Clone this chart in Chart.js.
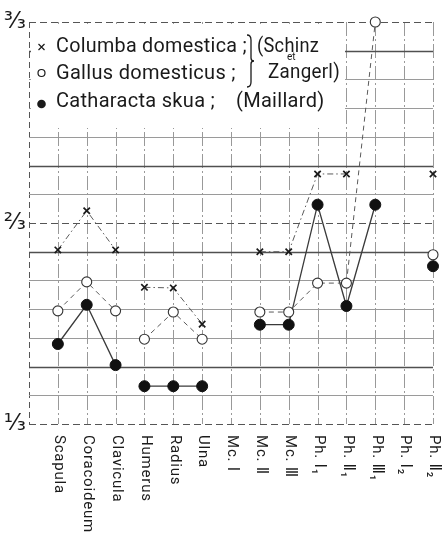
<!DOCTYPE html>
<html lang="de">
<head>
<meta charset="UTF-8">
<title>Columba, Gallus, Catharacta</title>
<script src="https://cdn.jsdelivr.net/npm/chart.js"></script>
<style>
  html, body { margin: 0; padding: 0; background: #fff; }
  canvas { display: block; }
</style>
</head>
<body>
<canvas id="chart" width="447" height="541"></canvas>
<script>
// bones along the x axis
const bones = ['Scapula', 'Coracoideum', 'Clavicula', 'Humerus', 'Radius', 'Ulna',
  'Mc. Ⅰ', 'Mc. Ⅱ', 'Mc. Ⅲ', 'Ph. Ⅰ₁', 'Ph. Ⅱ₁', 'Ph. Ⅲ₁', 'Ph. Ⅰ₂', 'Ph. Ⅱ₂'];

// relative values (fraction of the reference length)
const columba    = [0.622, 0.687, 0.622, 0.560, 0.559, 0.499, null, 0.619, 0.619, 0.748, 0.748, null, null, 0.748];
const gallus     = [0.521, 0.569, 0.521, 0.474, 0.519, 0.474, null, 0.519, 0.519, 0.567, 0.567, 1.000, null, 0.614];
const catharacta = [0.466, 0.531, 0.431, 0.396, 0.396, 0.396, null, 0.498, 0.498, 0.697, 0.529, 0.697, null, 0.595];

const seriesNames = ['Columba domestica', 'Gallus domesticus', 'Catharacta skua'];
const sources = ['Schinz', 'et', 'Zangerl', 'Maillard'];

// shoulder girdle and wing are not joined
const groupEnds = [2];

// y axis 1/3 .. 3/3, grid every 1/21
const yMin = 1 / 3, yMax = 1, ySteps = 14;
const yLabels = { 0: '¹⁄₃', 7: '²⁄₃', 14: '³⁄₃' };

const ink = '#1a1a1a';

function series(label, values, style) {
  return Object.assign({
    label: label,
    data: values.map((v, i) => ({ x: i, y: v })),
    spanGaps: false,
    tension: 0,
    clip: false,
    segment: {
      borderColor: c => groupEnds.includes(c.p0DataIndex) ? 'rgba(0,0,0,0)' : undefined
    }
  }, style);
}

const paper = {
  id: 'paper',
  beforeDatasetsDraw(chart) {
    const { ctx, chartArea: a, scales: { x, y } } = chart;
    ctx.save();

    // vertical lines
    for (let i = -1; i < bones.length; i++) {
      const px = Math.round(x.getPixelForValue(i)) + 0.5;
      ctx.beginPath();
      ctx.setLineDash(i === -1 ? [6, 4] : [14, 3, 2, 3]);
      ctx.strokeStyle = i === -1 ? '#555' : '#999';
      ctx.lineWidth = 1;
      ctx.moveTo(px, a.top);
      ctx.lineTo(px, a.bottom);
      ctx.stroke();
    }

    // horizontal lines
    const heavy = [2, 6, 9, 13];
    for (let k = 0; k <= ySteps; k++) {
      const py = Math.round(y.getPixelForValue(yMin + k * (yMax - yMin) / ySteps)) + 0.5;
      ctx.beginPath();
      if (yLabels[k]) {
        ctx.setLineDash([7, 4]);
        ctx.strokeStyle = '#555';
        ctx.lineWidth = 1.1;
      } else if (heavy.includes(k)) {
        ctx.setLineDash([]);
        ctx.strokeStyle = '#505050';
        ctx.lineWidth = 1.3;
      } else {
        ctx.setLineDash([]);
        ctx.strokeStyle = '#9a9a9a';
        ctx.lineWidth = 1;
      }
      ctx.moveTo(a.left, py);
      ctx.lineTo(a.right, py);
      ctx.stroke();
    }
    ctx.setLineDash([]);

    // legend panel
    const bx1 = Math.round(x.getPixelForValue(10)) - 1;
    const by1 = Math.round(y.getPixelForValue(yMin + 10.3 / 21));
    ctx.fillStyle = '#fff';
    ctx.fillRect(a.left + 2, a.top + 2, bx1 - a.left - 2, by1 - a.top - 2);

    const L = a.left, T = a.top;
    ctx.fillStyle = ink;
    ctx.strokeStyle = ink;
    ctx.lineWidth = 1.2;

    // markers
    const mx = L + 12.5;
    ctx.beginPath();
    ctx.moveTo(mx - 3, T + 22); ctx.lineTo(mx + 3, T + 28);
    ctx.moveTo(mx + 3, T + 22); ctx.lineTo(mx - 3, T + 28);
    ctx.stroke();
    ctx.beginPath();
    ctx.arc(mx, T + 51, 3.5, 0, Math.PI * 2);
    ctx.stroke();
    ctx.beginPath();
    ctx.arc(mx, T + 82, 4.3, 0, Math.PI * 2);
    ctx.fill();

    ctx.font = '20px Roboto, "DejaVu Sans", sans-serif';
    ctx.textBaseline = 'alphabetic';
    ctx.textAlign = 'left';
    ctx.letterSpacing = '0.3px';
    ctx.fillText(seriesNames[0] + ' ;', L + 27, T + 30, 191);
    ctx.fillText(seriesNames[1] + ' ;', L + 27, T + 57, 187);
    ctx.fillText(seriesNames[2] + ' ;', L + 27, T + 85, 166);

    ctx.fillText('(' + sources[0], L + 228, T + 30, 62);
    ctx.fillText(sources[2] + ')', L + 239, T + 56, 72);
    ctx.fillText('(' + sources[3] + ')', L + 207, T + 85, 96);
    ctx.letterSpacing = '0px';
    ctx.font = '10px Roboto, "DejaVu Sans", sans-serif';
    ctx.fillText(sources[1], L + 258, T + 38);

    // brace joining the first two rows
    const bx = L + 221;
    ctx.lineWidth = 1.3;
    ctx.beginPath();
    ctx.moveTo(bx - 3, T + 13);
    ctx.quadraticCurveTo(bx + 1, T + 13, bx + 1, T + 18);
    ctx.lineTo(bx + 1, T + 36);
    ctx.quadraticCurveTo(bx + 1, T + 39, bx + 4, T + 39);
    ctx.quadraticCurveTo(bx + 1, T + 39, bx + 1, T + 42);
    ctx.lineTo(bx + 1, T + 60);
    ctx.quadraticCurveTo(bx + 1, T + 65, bx - 3, T + 65);
    ctx.stroke();

    ctx.restore();
  },
  afterDraw(chart) {
    const { ctx, chartArea: a, scales: { x } } = chart;
    ctx.save();
    ctx.fillStyle = ink;
    ctx.font = '15px Roboto, "DejaVu Sans", sans-serif';
    ctx.letterSpacing = '0.8px';
    ctx.textAlign = 'left';
    ctx.textBaseline = 'middle';
    bones.forEach((name, i) => {
      ctx.save();
      ctx.translate(x.getPixelForValue(i) + 1, a.bottom + 11);
      ctx.rotate(Math.PI / 2);
      ctx.fillText(name, 0, 0);
      ctx.restore();
    });
    ctx.restore();
  }
};

new Chart(document.getElementById('chart'), {
  type: 'line',
  data: {
    datasets: [
      series(seriesNames[0], columba, {
        borderColor: '#5a5a5a', borderWidth: 1, borderDash: [6, 3, 1.5, 3],
        pointStyle: 'crossRot', pointRadius: 4.5, pointBorderWidth: 1.7,
        pointBorderColor: ink, pointBackgroundColor: ink
      }),
      series(seriesNames[1], gallus, {
        borderColor: '#5a5a5a', borderWidth: 1, borderDash: [5, 4],
        pointStyle: 'circle', pointRadius: 5, pointBorderWidth: 1.1,
        pointBorderColor: '#333', pointBackgroundColor: '#fff'
      }),
      series(seriesNames[2], catharacta, {
        borderColor: '#3a3a3a', borderWidth: 1.3,
        pointStyle: 'circle', pointRadius: 5.5, pointBorderWidth: 1,
        pointBorderColor: '#111', pointBackgroundColor: '#111'
      })
    ]
  },
  options: {
    responsive: false,
    devicePixelRatio: 1,
    animation: false,
    layout: { padding: { top: 22, right: 14, bottom: 117, left: 0 } },
    plugins: { legend: { display: false }, tooltip: { enabled: false } },
    scales: {
      x: { type: 'linear', min: -1, max: bones.length - 1, display: false },
      y: {
        type: 'linear', min: yMin, max: yMax,
        afterFit: s => { s.width = 29; },
        afterBuildTicks: s => {
          s.ticks = Array.from({ length: ySteps + 1 }, (_, k) => ({ value: yMin + k * (yMax - yMin) / ySteps }));
        },
        grid: { display: false, drawTicks: false },
        border: { display: false },
        ticks: {
          autoSkip: false, padding: 3, color: ink,
          font: { family: '"DejaVu Sans"', size: 23 },
          callback: v => yLabels[Math.round((v - yMin) * 21)] || ''
        }
      }
    }
  },
  plugins: [paper]
});
</script>
</body>
</html>
